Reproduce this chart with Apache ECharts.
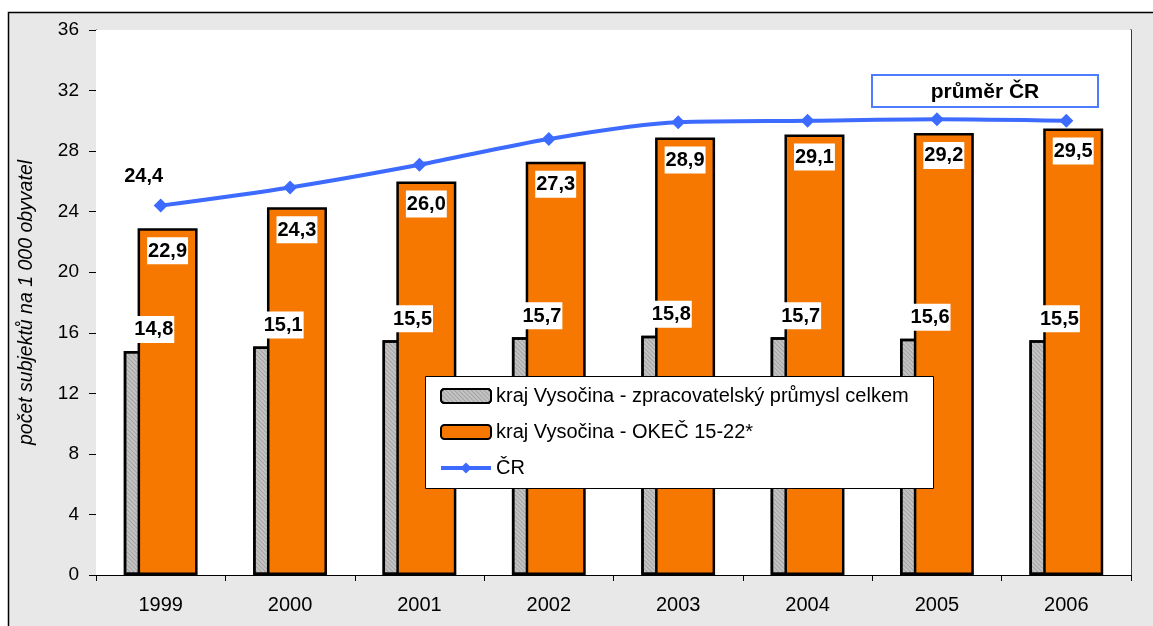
<!DOCTYPE html>
<html>
<head>
<meta charset="utf-8">
<script src="https://cdn.jsdelivr.net/npm/echarts@6/dist/echarts.min.js"></script>
<style>
html,body{margin:0;padding:0;background:#fff;}
#c{width:1153px;height:626px;}
</style>
</head>
<body>
<div id="c"></div>
<script>
const categories = ['1999','2000','2001','2002','2003','2004','2005','2006'];
const zpracovatelsky = [14.8, 15.1, 15.5, 15.7, 15.8, 15.7, 15.6, 15.5];
const okec = [22.9, 24.3, 26.0, 27.3, 28.9, 29.1, 29.2, 29.5];
const cr = [24.4, 25.6, 27.1, 28.8, 29.9, 30.0, 30.1, 30.0];
const seriesNames = ['kraj Vysočina - zpracovatelský průmysl celkem', 'kraj Vysočina - OKEČ 15-22*', 'ČR'];
const yAxisName = 'počet subjektů na 1 000 obyvatel';
const boxTitle = 'průměr ČR';

const fmt = v => String(v.toFixed(1)).replace('.', ',');
const font = 'Arial, "Liberation Sans", sans-serif';

const chart = echarts.init(document.getElementById('c'), null, {renderer: 'canvas'});
const valueLabel = {
  show: true,
  color: '#000',
  fontFamily: font,
  fontWeight: 'bold',
  fontSize: 20,
  backgroundColor: '#fff',
  padding: [4, 1, 3, 1],
  formatter: p => fmt(p.value)
};

chart.setOption({
  backgroundColor: '#fff',
  animation: false,
  textStyle: {fontFamily: font},
  graphic: [
    {type: 'rect', z: 0, zlevel: 0, silent: true,
     shape: {x: 8.5, y: 12.5, width: 1300, height: 800},
     style: {fill: '#e8e8e8', stroke: '#000', lineWidth: 1.5}},
    {type: 'rect', z: 10, silent: true,
     shape: {x: 425.5, y: 376.5, width: 508, height: 112},
     style: {fill: '#fff', stroke: '#000', lineWidth: 1}},
    {type: 'rect', z: 10, silent: true,
     shape: {x: 872, y: 75, width: 226, height: 32},
     style: {fill: '#fff', stroke: '#4d7cff', lineWidth: 2}},
    {type: 'text', z: 11, silent: true, x: 985, y: 92,
     style: {text: boxTitle, fill: '#000', font: 'bold 21px ' + font, textAlign: 'center', textVerticalAlign: 'middle'}}
  ],
  grid: {left: 96, right: 22, top: 30, bottom: 51, show: true, backgroundColor: '#fff', borderWidth: 0, z: 1},
  legend: {
    orient: 'vertical', left: 439, top: 386, z: 12, padding: 0,
    itemWidth: 50, itemHeight: 14, itemGap: 16,
    textStyle: {fontSize: 20, lineHeight: 20, color: '#000', fontFamily: font},
    data: [
      {name: seriesNames[0]},
      {name: seriesNames[1]},
      {name: seriesNames[2], lineStyle: {width: 4}}
    ]
  },
  xAxis: {
    type: 'category', data: categories,
    axisLine: {lineStyle: {color: '#000', width: 1}},
    axisTick: {show: true, length: 6, lineStyle: {color: '#000'}},
    axisLabel: {fontSize: 20, color: '#000', margin: 20, fontFamily: font}
  },
  yAxis: [{
    type: 'value', min: 0, max: 36, interval: 4,
    name: yAxisName, nameLocation: 'middle', nameGap: 59,
    nameTextStyle: {fontSize: 19.5, fontStyle: 'italic', color: '#000', fontFamily: font},
    axisLine: {show: true, lineStyle: {color: '#000', width: 1}},
    axisTick: {show: true, length: 7, lineStyle: {color: '#000'}},
    axisLabel: {fontSize: 19, color: '#000', margin: 17, fontFamily: font},
    splitLine: {show: true, lineStyle: {color: '#333', width: 1, type: [8, 7]}}
  }, {
    type: 'value', min: 0, max: 36, interval: 4, position: 'right',
    axisLine: {show: true, lineStyle: {color: '#000', width: 1.5}},
    axisTick: {show: false}, axisLabel: {show: false}, splitLine: {show: false}
  }],
  series: [
    {
      name: seriesNames[0], type: 'bar', data: zpracovatelsky,
      barWidth: 60, barGap: '-77%',
      itemStyle: {color: '#c4c4c4', borderColor: '#000', borderWidth: 2.5,
        decal: {symbol: 'rect', symbolSize: 1, dashArrayX: [1, 0], dashArrayY: [1, 2], rotation: Math.PI / 4, color: 'rgba(140,140,140,0.6)'}},
      label: Object.assign({}, valueLabel, {position: 'top', distance: 8})
    },
    {
      name: seriesNames[1], type: 'bar', data: okec,
      barWidth: 60, barGap: '-77%',
      itemStyle: {color: '#f67800', borderColor: '#000', borderWidth: 2.5},
      label: Object.assign({}, valueLabel, {position: 'insideTop', distance: 9})
    },
    {
      name: seriesNames[2], type: 'line', data: cr.map((v, i) => i === 0 ? {
        value: v,
        label: {show: true, position: 'top', offset: [-17, -7], color: '#000', fontSize: 20, fontWeight: 'bold', fontFamily: font, formatter: p => fmt(p.value)}
      } : v),
      smooth: 0.3, symbol: 'diamond', symbolSize: 14, z: 4,
      lineStyle: {color: '#3d6bff', width: 4},
      itemStyle: {color: '#3d6bff'}
    }
  ]
});
</script>
</body>
</html>
